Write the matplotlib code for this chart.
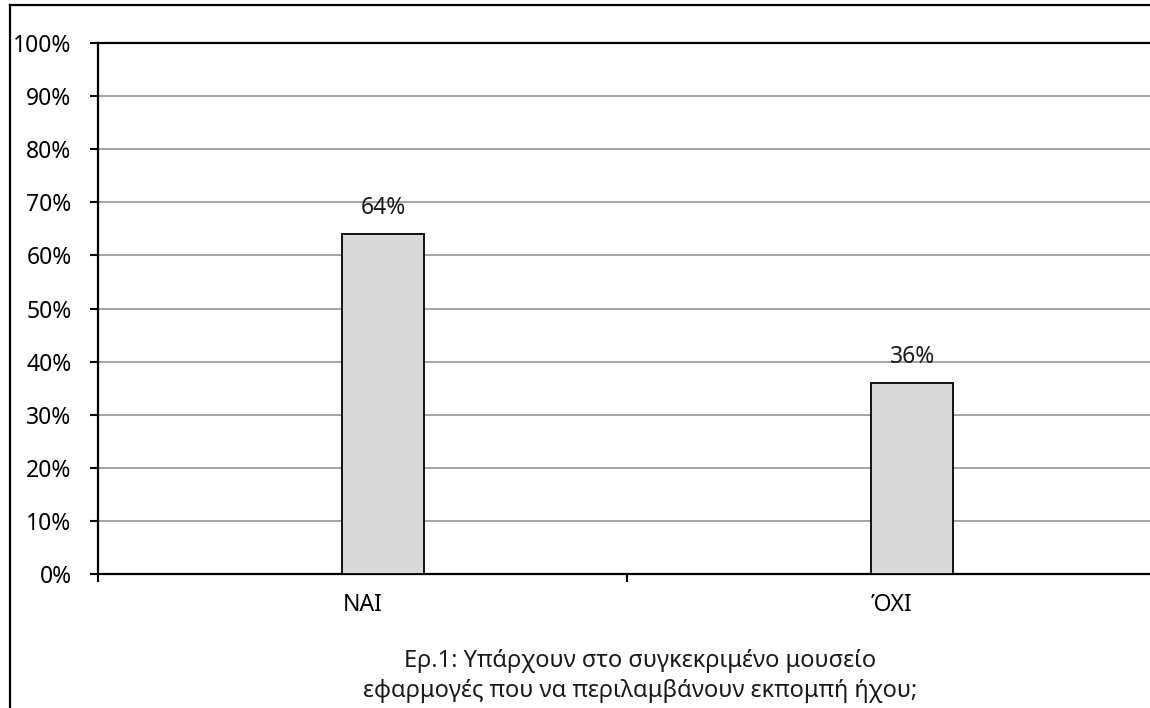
import numpy as np
import matplotlib.pyplot as plt
from matplotlib.lines import Line2D
from matplotlib.ticker import FixedLocator, PercentFormatter

plt.rcParams["font.family"] = ["Noto Sans", "DejaVu Sans"]

# answers and share of responses (%)
categories = ["ΝΑΙ", "ΌΧΙ"]
shares = [64, 36]
y_ticks = list(range(0, 101, 10))
caption = "Ερ.1: Υπάρχουν στο συγκεκριμένο μουσείο\nεφαρμογές που να περιλαμβάνουν εκπομπή ήχου;"

W, H = 1150, 708
fig = plt.figure(figsize=(W / 100, H / 100), dpi=100)
fig.patch.set_facecolor("white")

# plot area runs past the right edge of the figure
ax_left, ax_right = 98 / W, 1156 / W
ax_bottom, ax_top = 1 - 574 / H, 1 - 43 / H
ax = fig.add_axes([ax_left, ax_bottom, ax_right - ax_left, ax_top - ax_bottom])

centers = np.arange(len(categories)) + 0.5
bar_shift = 0.039
bar_width = 0.154
ax.bar(centers + bar_shift, shares, width=bar_width, color="#d9d9d9",
       edgecolor="black", linewidth=1.3, zorder=3)

for x, v in zip(centers + bar_shift, shares):
    ax.annotate(f"{v}%", (x, v), xytext=(0, 10), textcoords="offset points",
                ha="center", va="bottom", fontsize=16.5, color="#1a1a1a")

ax.set_xlim(0, len(categories))
ax.set_ylim(0, 100)

ax.yaxis.set_major_locator(FixedLocator(y_ticks))
ax.yaxis.set_major_formatter(PercentFormatter(decimals=0))
ax.grid(axis="y", color="#8c8c8c", linewidth=1.1, zorder=0)
ax.set_axisbelow(True)

# category boundaries get tick marks, names sit in between
ax.xaxis.set_major_locator(FixedLocator(np.arange(len(categories) + 1)))
ax.xaxis.set_major_formatter(plt.NullFormatter())
ax.xaxis.set_minor_locator(FixedLocator(centers))
ax.set_xticklabels(categories, minor=True)
ax.tick_params(axis="x", which="major", direction="out", length=6, width=1.5)
ax.tick_params(axis="x", which="minor", length=0, pad=14, labelsize=16.5)
ax.tick_params(axis="y", direction="out", length=6, width=1.5, pad=13,
               labelsize=16.5)

for side in ("left", "bottom", "top"):
    ax.spines[side].set_linewidth(1.6)
    ax.spines[side].set_color("black")
ax.spines["right"].set_visible(False)

fig.text(640 / W, 1 - 676 / H, caption, ha="center", va="center",
         fontsize=17, linespacing=1.3, color="#1a1a1a")

# outer chart frame (left and top edges visible)
fig.add_artist(Line2D([10 / W, 10 / W], [0, 1 - 5 / H], color="black",
                      linewidth=1.6, transform=fig.transFigure))
fig.add_artist(Line2D([10 / W, 1], [1 - 5 / H, 1 - 5 / H], color="black",
                      linewidth=1.6, transform=fig.transFigure))

fig.savefig("out.png", dpi=100, facecolor="white")
